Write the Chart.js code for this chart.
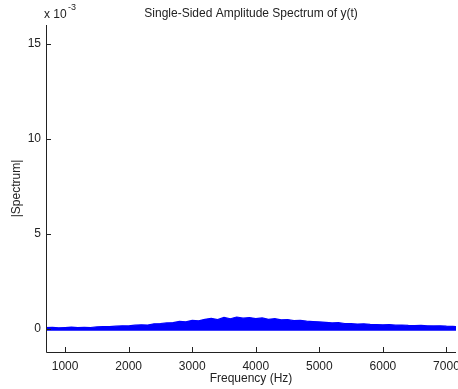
<!DOCTYPE html>
<html>
<head>
<meta charset="utf-8">
<script src="https://cdn.jsdelivr.net/npm/chart.js@4.4.1/dist/chart.umd.min.js"></script>
<style>
  html, body { margin: 0; padding: 0; background: #fff; }
  #wrap { width: 458px; height: 389px; }
</style>
</head>
<body>
<div id="wrap"><canvas id="spectrum" width="458" height="389"></canvas></div>
<script>
// frequency bins (Hz)
const freqHz = [700, 800, 900, 1000, 1100, 1200, 1300, 1400, 1500, 1600, 1700, 1800, 1900,
  2000, 2100, 2200, 2300, 2400, 2500, 2600, 2700, 2800, 2900,
  3000, 3100, 3200, 3300, 3400, 3500, 3600, 3700, 3800, 3900,
  4000, 4100, 4200, 4300, 4400, 4500, 4600, 4700, 4800, 4900,
  5000, 5100, 5200, 5300, 5400, 5500, 5600, 5700, 5800, 5900,
  6000, 6100, 6200, 6300, 6400, 6500, 6600, 6700, 6800, 6900,
  7000, 7100, 7150];
// upper edge of |Spectrum| band, in units of 1e-3
const spectrum = [0.08, 0.10, 0.07, 0.09, 0.11, 0.08, 0.10, 0.09, 0.12, 0.14, 0.13, 0.16, 0.18,
  0.17, 0.21, 0.23, 0.22, 0.28, 0.30, 0.33, 0.35, 0.41, 0.39,
  0.47, 0.44, 0.52, 0.57, 0.50, 0.62, 0.55, 0.64, 0.58, 0.61,
  0.56, 0.59, 0.52, 0.55, 0.49, 0.51, 0.45, 0.47, 0.42, 0.40,
  0.38, 0.36, 0.33, 0.34, 0.30, 0.29, 0.27, 0.28, 0.25, 0.24,
  0.23, 0.24, 0.21, 0.22, 0.20, 0.19, 0.20, 0.18, 0.17, 0.18,
  0.16, 0.15, 0.14];
const xTicks = [1000, 2000, 3000, 4000, 5000, 6000, 7000];
const yTicks = [0, 5, 10, 15];

const FONT = "'Liberation Sans', Arial, sans-serif";
const INK = "#222";

// matlab-ish axes: left/bottom lines, inward ticks, titles
const matlabAxes = {
  id: "matlabAxes",
  afterDraw(chart) {
    const c = chart.ctx;
    const a = chart.chartArea;
    const xs = chart.scales.x;
    const ys = chart.scales.y;
    c.save();
    c.strokeStyle = INK;
    c.lineWidth = 1;
    c.beginPath();
    c.moveTo(a.left + 0.5, a.top);
    c.lineTo(a.left + 0.5, a.bottom + 0.5);
    c.lineTo(a.right, a.bottom + 0.5);
    xTicks.forEach((t) => {
      const px = Math.round(xs.getPixelForValue(t)) + 0.5;
      c.moveTo(px, a.bottom);
      c.lineTo(px, a.bottom - 5);
    });
    yTicks.forEach((t) => {
      const py = Math.round(ys.getPixelForValue(t)) + 0.5;
      c.moveTo(a.left, py);
      c.lineTo(a.left + 5, py);
    });
    c.stroke();

    c.fillStyle = INK;
    c.font = "12px " + FONT;
    c.textAlign = "center";
    c.textBaseline = "middle";
    c.fillText("Single-Sided Amplitude Spectrum of y(t)", (a.left + a.right) / 2, 14);
    c.fillText("Frequency (Hz)", (a.left + a.right) / 2, 379);
    c.save();
    c.translate(17, (a.top + a.bottom) / 2);
    c.rotate(-Math.PI / 2);
    c.fillText("|Spectrum|", 0, 0);
    c.restore();

    c.textAlign = "left";
    c.fillText("x 10", 44, 15);
    c.font = "9px " + FONT;
    c.fillText("-3", 68, 8);
    c.restore();
  },
};

new Chart(document.getElementById("spectrum"), {
  type: "line",
  data: {
    datasets: [
      {
        label: "|Y(f)|",
        data: freqHz.map((f, i) => ({ x: f, y: spectrum[i] })),
        borderColor: "#0000ff",
        backgroundColor: "#0000ff",
        borderWidth: 1.2,
        pointRadius: 0,
        tension: 0,
        fill: { value: -0.08 },
      },
    ],
  },
  plugins: [matlabAxes],
  options: {
    responsive: false,
    animation: false,
    layout: { padding: { top: 25, right: 2, left: 0, bottom: 0 } },
    plugins: {
      legend: { display: false },
      tooltip: { enabled: false },
    },
    scales: {
      x: {
        type: "linear",
        min: 700,
        max: 7150,
        afterBuildTicks: (s) => { s.ticks = xTicks.map((v) => ({ value: v })); },
        afterFit: (s) => { s.height = 37; s.paddingLeft = 0; s.paddingRight = 0; },
        grid: { display: false, drawTicks: false },
        border: { display: false },
        ticks: {
          padding: 7,
          color: INK,
          font: { family: FONT, size: 12 },
          maxRotation: 0,
          callback: (v) => String(v),
        },
      },
      y: {
        min: -1.2,
        max: 16,
        afterBuildTicks: (s) => { s.ticks = yTicks.map((v) => ({ value: v })); },
        afterFit: (s) => { s.width = 46; s.paddingTop = 0; s.paddingBottom = 0; },
        grid: { display: false, drawTicks: false },
        border: { display: false },
        ticks: {
          padding: 5,
          color: INK,
          font: { family: FONT, size: 12 },
          callback: (v) => String(v),
        },
      },
    },
  },
});
</script>
</body>
</html>
